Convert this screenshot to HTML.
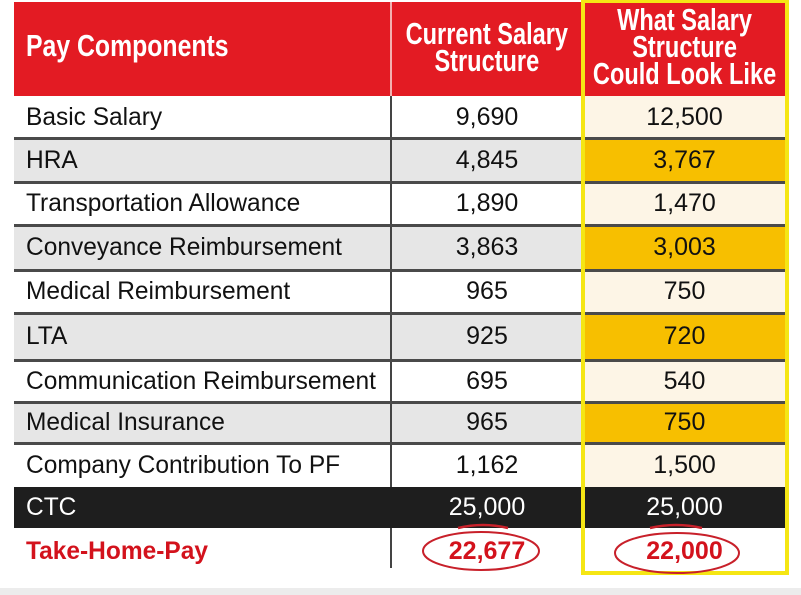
<!DOCTYPE html>
<html><head><meta charset="utf-8"><style>
*{margin:0;padding:0;box-sizing:border-box}
body{width:801px;height:595px;background:#fff;position:relative;overflow:hidden;font-family:"Liberation Sans",sans-serif}
.abs{position:absolute}
.row{position:absolute;left:14px;width:772px}
.cell{position:absolute;top:0;height:100%;display:flex;align-items:center;font-size:25px;color:#111}
.c1{left:0;width:377px;padding-left:12px}
.c2{left:377px;width:192px;justify-content:center}
.c3{left:569px;width:203px;justify-content:center}
.t{display:inline-block;transform:scaleX(0.98);transform-origin:left center;white-space:nowrap}
.c2 .t,.c3 .t{transform-origin:center;transform:scaleX(1.0)}
.sep{position:absolute;left:14px;width:772px;height:3px;background:#4a4a4a}
.hd{color:#fff;font-weight:bold;line-height:27px;text-align:center;font-size:31px}
.hc{display:flex;justify-content:center}
</style></head><body>
<div class="abs" style="left:14px;top:2px;width:772px;height:94px;background:#e31b23"></div>
<div class="abs" style="left:390px;top:2px;width:2px;height:94px;background:#f3b0b0"></div>
<div class="abs hd" style="left:26px;top:32px;text-align:left"><span class="t" style="transform:scaleX(0.8)">Pay Components</span></div>
<div class="abs hd hc" style="left:392px;top:20px;width:190px"><span class="t" style="transform:scaleX(0.76);transform-origin:center">Current Salary<br>Structure</span></div>
<div class="abs hd hc" style="left:585px;top:6px;width:200px"><span class="t" style="transform:scaleX(0.76);transform-origin:center">What Salary<br>Structure<br>Could Look Like</span></div>
<div id="rows"></div>
<div class="abs" style="left:0;top:588px;width:801px;height:7px;background:#ececec"></div>
<svg class="abs" style="left:0;top:0" width="801" height="595">
<rect x="583" y="1" width="204" height="572" fill="none" stroke="#f5e614" stroke-width="4"/>
<path d="M458 528 Q483 522 508 528" stroke="#c8202a" stroke-width="2.5" fill="none"/>
<path d="M650 528 Q676 522 702 528" stroke="#c8202a" stroke-width="2.5" fill="none"/>
<ellipse cx="481" cy="551" rx="58" ry="19" fill="none" stroke="#c8202a" stroke-width="2"/>
<ellipse cx="677" cy="553" rx="62" ry="20" fill="none" stroke="#c8202a" stroke-width="2"/>
</svg>
<script>
const components=["Basic Salary","HRA","Transportation Allowance","Conveyance Reimbursement","Medical Reimbursement","LTA","Communication Reimbursement","Medical Insurance","Company Contribution To PF","CTC","Take-Home-Pay"];
const currentVals=["9,690","4,845","1,890","3,863","965","925","695","965","1,162","25,000","22,677"];
const proposedVals=["12,500","3,767","1,470","3,003","750","720","540","750","1,500","25,000","22,000"];
const tops=[96,138,182,225,270,313,360,402,443,487,528,574];
const rows=document.getElementById('rows');
components.forEach((c,i)=>{
  const r=document.createElement('div');
  r.className='row';
  
  
  r.style.top=tops[i]+'px';r.style.height=(tops[i+1]-tops[i])+'px';
  const grey=(i%2==1)&&i<9, ctc=i==9, th=i==10;
  let bg1=ctc?'#1e1e1e':grey?'#e6e6e6':'#fff';
  let bg3=ctc?'#1e1e1e':grey?'#f7bf00':(th?'#fff':'#fdf5e6');
  let col=ctc?'#fff':th?'#d3121c':'#111';
  r.style.background=bg1;
  const mk=(cls,txt,bg,nm)=>{const d=document.createElement('div');d.className='cell '+cls;
    
    
    if(bg)d.style.background=bg;d.style.color=col;if(th)d.style.fontWeight='bold';
    d.innerHTML='<span class="t">'+txt+'</span>';r.appendChild(d);};
  mk('c1',c,null,'label-cell');
  mk('c2',currentVals[i],null,'current-value');
  mk('c3',proposedVals[i],bg3,'proposed-value');
  if(!ctc&&!th){const v=document.createElement('div');v.className='abs';v.style.cssText='left:376px;top:0;width:2px;height:100%;background:#444';
    
    
    r.appendChild(v);}
  if(th){const v=document.createElement('div');v.className='abs';v.style.cssText='left:376px;top:0;width:2px;height:40px;background:#444';
    
    
    r.appendChild(v);}
  rows.appendChild(r);
  if(i>0&&i<9){const s=document.createElement('div');s.className='sep';s.style.top=(tops[i]-1)+'px';
    
    
    rows.appendChild(s);}
});
</script>
</body></html>
